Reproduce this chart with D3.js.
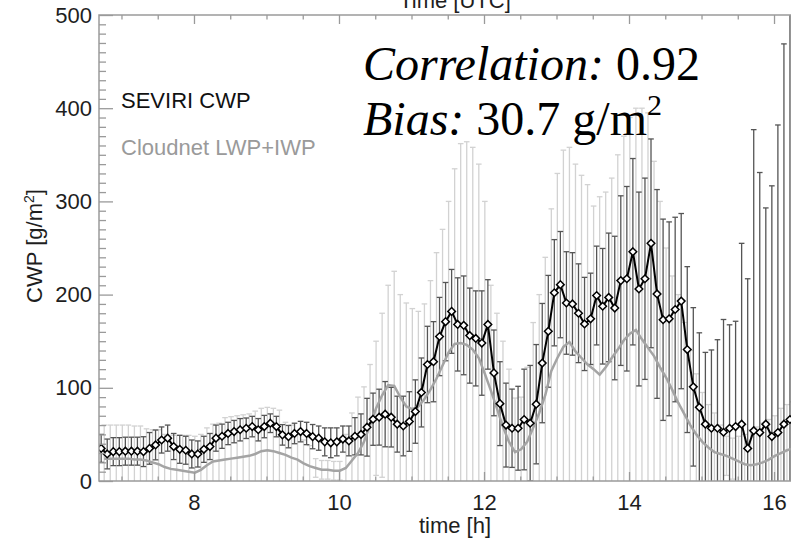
<!DOCTYPE html>
<html>
<head>
<meta charset="utf-8">
<script src="https://cdn.jsdelivr.net/npm/d3@7"></script>
<style>
  body { margin: 0; background: #fff; }
  svg { display: block; }
</style>
</head>
<body>
<svg id="chart"></svg>
<script>
// 5-minute samples, time in hours
const startTime = 6.72;
const stepHours = 5 / 60;

const seviriCwp = [
  35, 29, 31.5, 31.5, 32, 32, 32, 31.5, 35, 38.7, 44, 46, 37, 34, 33, 29, 29, 34, 37, 46,
  48, 51, 53, 55, 56.6, 58.4, 55, 58.4, 62, 58.4, 49.5, 47.6, 51, 53, 51, 47.6, 46, 42, 41, 42,
  45, 43, 48, 50, 57.7, 66.3, 68.5, 71.7, 68.5, 61, 59, 63.8, 74.5, 95, 125, 128, 155, 171, 182, 168,
  167, 156, 153, 148, 168, 116, 83, 60, 56.6, 56.6, 66, 62, 82.4, 126.5, 160.6, 202, 210.7, 191, 190, 180,
  168.5, 174, 199, 187.5, 197, 185.6, 215, 217, 246, 206, 217, 255, 200.7, 173, 174, 184, 193, 141, 101, 79,
  61, 56.6, 56.6, 52.3, 56.6, 58.4, 61, 35, 54, 52, 61, 47.7, 52, 61, 66
];
const seviriErr = [
  15, 16, 15, 15, 15, 15, 15, 16, 17, 16, 14, 14, 14, 15, 15, 15, 14, 14, 14, 14,
  13, 12, 12, 12, 11, 11, 12, 12, 10, 11, 11, 12, 11, 11, 12, 13, 13, 15, 16, 15,
  14, 16, 20, 22, 31, 28, 30, 35, 32, 30, 32, 32, 34, 37, 41, 43, 42, 42, 45, 50,
  53, 51, 51, 56, 48, 46, 45, 45, 42, 45, 54, 62, 64, 64, 60, 57, 57, 55, 55, 53,
  50, 49, 53, 62, 69, 77, 91, 99, 100, 104, 108, 112, 112, 108, 104, 99, 94, 89, 85, 80,
  77, 84, 95, 121, 111, 113, 194, 182, 323, 279, 232, 269, 330, 408, 480
];

// Cloudnet samples sit half a step after the SEVIRI ones
const cloudnetOffset = 2.5 / 60;
const cloudnetCwp = [
  24, 24, 24, 24, 24, 23, 23, 22, 20, 18, 15, 13, 12, 11, 10, 9, 12, 17, 21, 22,
  23, 24, 25, 26, 27, 29, 32, 33, 32, 30, 28, 25, 23, 19, 16, 14, 12, 12, 11, 11,
  14, 22, 30, 42, 60, 78, 92, 103, 102, 90, 80, 77, 80, 88, 98, 110, 124, 138, 147, 148,
  146, 141, 132, 115, 97, 78, 58, 42, 31, 34, 42, 57, 73, 92, 118, 132, 144, 149, 139, 132,
  125, 120, 114, 122, 132, 141, 151, 158, 162, 152, 143, 134, 122, 111, 98, 84, 72, 60, 50, 42,
  36, 31, 29, 27, 24, 21, 18, 17, 18, 20, 23, 27, 30, 33, 35
];
const cloudnetErr = [
  36, 36, 36, 36, 36, 36, 36, 34, 35, 37, 35, 36, 37, 38, 39, 39, 38, 40, 40, 40,
  45, 45, 45, 45, 45, 46, 46, 46, 46, 46, 35, 35, 28, 25, 22, 10, 10, 10, 10, 10,
  36, 51, 60, 59, 65, 72, 88, 107, 123, 110, 111, 108, 102, 102, 117, 135, 146, 162, 188, 214,
  218, 217, 208, 185, 113, 102, 92, 78, 58, 56, 80, 113, 127, 148, 174, 198, 211, 209, 201, 196,
  193, 175, 191, 188, 193, 209, 219, 232, 238, 248, 252, 209, 178, 139, 122, 116, 98, 80, 65, 53,
  46, 42, 31, 21, 22, 27, 32, 38, 40, 42, 43, 43, 48, 49, 50
];

const xMajorTicks = [8, 10, 12, 14, 16];
const yMajorTicks = [0, 100, 200, 300, 400, 500];

const seviri = seviriCwp.map((v, i) => ({ t: startTime + i * stepHours, v: v, e: seviriErr[i] }));
const cloudnet = cloudnetCwp.map((v, i) => ({ t: startTime + cloudnetOffset + i * stepHours, v: v, e: cloudnetErr[i] }));

const width = 791, height = 538;
const margin = { top: 15, left: 99, right: -20, bottom: 57 };
const plotRight = width - margin.right;
const plotBottom = height - margin.bottom;

const axisColor = "#9a9a9a";
const textColor = "#1e1e1e";
const font = "'Liberation Sans', Arial, sans-serif";

const svg = d3.select("#chart").attr("width", width).attr("height", height);

const x = d3.scaleLinear().domain([6.69, 16.51]).range([margin.left, plotRight]);
const y = d3.scaleLinear().domain([0, 500]).range([plotBottom, margin.top]);

svg.append("defs").append("clipPath").attr("id", "plotClip")
  .append("rect")
  .attr("x", margin.left).attr("y", margin.top)
  .attr("width", plotRight - margin.left).attr("height", plotBottom - margin.top);

const plot = svg.append("g").attr("clip-path", "url(#plotClip)");

function errorBars(g, data, color, capHalf) {
  const bars = g.selectAll("g").data(data).join("g");
  bars.append("line")
    .attr("x1", d => x(d.t)).attr("x2", d => x(d.t))
    .attr("y1", d => y(d.v - d.e)).attr("y2", d => y(d.v + d.e));
  bars.append("line")
    .attr("x1", d => x(d.t) - capHalf).attr("x2", d => x(d.t) + capHalf)
    .attr("y1", d => y(d.v + d.e)).attr("y2", d => y(d.v + d.e));
  bars.append("line")
    .attr("x1", d => x(d.t) - capHalf).attr("x2", d => x(d.t) + capHalf)
    .attr("y1", d => y(d.v - d.e)).attr("y2", d => y(d.v - d.e));
  g.attr("stroke", color).attr("stroke-width", 1.3);
}

// error bars: light Cloudnet first, darker SEVIRI above
errorBars(plot.append("g"), cloudnet, "#d2d2d2", 2.8);
errorBars(plot.append("g"), seviri, "#555", 2.8);

const line = d3.line().x(d => x(d.t)).y(d => y(d.v));

plot.append("path").datum(cloudnet)
  .attr("d", line)
  .attr("fill", "none")
  .attr("stroke", "#a4a4a4")
  .attr("stroke-width", 2.5);

plot.append("path").datum(seviri)
  .attr("d", line)
  .attr("fill", "none")
  .attr("stroke", "#000")
  .attr("stroke-width", 2);

plot.append("g").selectAll("path").data(seviri).join("path")
  .attr("transform", d => `translate(${x(d.t)},${y(d.v)})`)
  .attr("d", "M0,-3.8L3.8,0L0,3.8L-3.8,0Z")
  .attr("fill", "#fff")
  .attr("stroke", "#000")
  .attr("stroke-width", 1.5);

// axes
function styleAxis(g) {
  g.select(".domain").remove();
  g.selectAll("line").attr("stroke", axisColor).attr("stroke-width", 1.3);
  g.selectAll("text").attr("fill", textColor).style("font-family", font).style("font-size", "22px");
}

const xMinor = d3.range(7, 16.6, 0.5).filter(t => !xMajorTicks.includes(t));
const yMinor = d3.range(10, 500, 10).filter(v => !yMajorTicks.includes(v));

svg.append("g").attr("transform", `translate(0,${plotBottom})`)
  .call(d3.axisBottom(x).tickValues(xMinor).tickFormat("").tickSize(-4.5))
  .call(styleAxis);
svg.append("g").attr("transform", `translate(0,${plotBottom})`)
  .call(d3.axisBottom(x).tickValues(xMajorTicks).tickFormat(d3.format("d")).tickSize(-9).tickPadding(13))
  .call(styleAxis);

svg.append("g").attr("transform", `translate(0,${margin.top})`)
  .call(d3.axisTop(x).tickValues(xMinor).tickFormat("").tickSize(-4.5))
  .call(styleAxis);
svg.append("g").attr("transform", `translate(0,${margin.top})`)
  .call(d3.axisTop(x).tickValues(xMajorTicks).tickFormat("").tickSize(-9))
  .call(styleAxis);

svg.append("g").attr("transform", `translate(${margin.left},0)`)
  .call(d3.axisLeft(y).tickValues(yMinor).tickFormat("").tickSize(-7))
  .call(styleAxis);
svg.append("g").attr("transform", `translate(${margin.left},0)`)
  .call(d3.axisLeft(y).tickValues(yMajorTicks).tickFormat(d3.format("d")).tickSize(-14).tickPadding(7))
  .call(styleAxis);

svg.append("rect")
  .attr("x", margin.left).attr("y", margin.top)
  .attr("width", plotRight - margin.left).attr("height", plotBottom - margin.top)
  .attr("fill", "none").attr("stroke", axisColor).attr("stroke-width", 1.5);

// axis titles
const midX = (margin.left + plotRight) / 2;
svg.append("text")
  .attr("x", midX).attr("y", 533)
  .attr("text-anchor", "middle")
  .attr("fill", textColor).style("font-family", font).style("font-size", "22px")
  .text("time [h]");

svg.append("text")
  .attr("x", midX).attr("y", 8)
  .attr("text-anchor", "middle")
  .attr("fill", textColor).style("font-family", font).style("font-size", "22px")
  .text("Time [UTC]");

const yTitle = svg.append("text")
  .attr("transform", `translate(42,${(margin.top + plotBottom) / 2 - 2}) rotate(-90)`)
  .attr("text-anchor", "middle")
  .attr("fill", textColor).style("font-family", font).style("font-size", "22px");
yTitle.append("tspan").text("CWP [g/m");
yTitle.append("tspan").attr("dy", -8).style("font-size", "14px").text("2");
yTitle.append("tspan").attr("dy", 8).text("]");

// legend
svg.append("text")
  .attr("x", 121).attr("y", 108)
  .attr("fill", "#111").style("font-family", font).style("font-size", "22px")
  .text("SEVIRI CWP");
svg.append("text")
  .attr("x", 121).attr("y", 155)
  .attr("fill", "#9a9a9a").style("font-family", font).style("font-size", "22px")
  .text("Cloudnet LWP+IWP");

// statistics
const serif = "'Liberation Serif', 'DejaVu Serif', serif";
const corr = svg.append("text")
  .attr("x", 363).attr("y", 80)
  .attr("fill", "#000").style("font-family", serif).style("font-size", "48px");
corr.append("tspan").style("font-style", "italic").text("Correlation:");
corr.append("tspan").text(" 0.92");

const bias = svg.append("text")
  .attr("x", 363).attr("y", 135)
  .attr("fill", "#000").style("font-family", serif).style("font-size", "48px");
bias.append("tspan").style("font-style", "italic").text("Bias:");
bias.append("tspan").text(" 30.7 g/m");
bias.append("tspan").attr("dy", -20).style("font-size", "30px").text("2");
</script>
</body>
</html>
